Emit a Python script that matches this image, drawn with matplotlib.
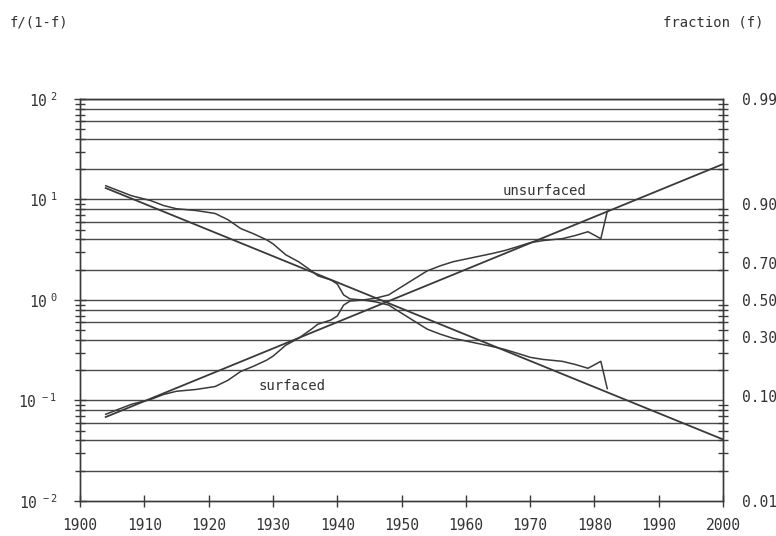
import numpy as np
import matplotlib
matplotlib.use('Agg')
import matplotlib.pyplot as plt
from matplotlib.ticker import LogLocator, NullFormatter, FixedLocator

# datos: fraccion de superficie (f) por año
years = [1904, 1908, 1911, 1913, 1915, 1918, 1921, 1923, 1925, 1927, 1929, 1930,
         1932, 1934, 1936, 1937, 1939, 1940, 1941, 1942, 1944, 1946, 1948, 1949,
         1951, 1954, 1956, 1958, 1961, 1964, 1966, 1968, 1970, 1972, 1975, 1977,
         1979, 1981, 1982]
surfaced_f = [0.068, 0.084, 0.093, 0.103, 0.110, 0.114, 0.121, 0.137, 0.163, 0.180,
              0.201, 0.216, 0.262, 0.294, 0.339, 0.365, 0.387, 0.409, 0.471, 0.494,
              0.500, 0.511, 0.529, 0.552, 0.597, 0.661, 0.686, 0.706, 0.725, 0.743,
              0.756, 0.772, 0.788, 0.796, 0.803, 0.814, 0.827, 0.803, 0.884]

# rectas ajustadas (extremos)
fit_years = [1904, 2000]
surfaced_fit = [0.0685, 22.5]
unsurfaced_fit = [13.0, 0.041]

right_labels = ['0.01', '0.10', '0.30', '0.50', '0.70', '0.90', '0.99']
right_fracs = [0.01, 0.10, 0.30, 0.50, 0.70, 0.90, 0.99]

plt.rcParams['font.family'] = ['DejaVu Sans Mono']
plt.rcParams['mathtext.default'] = 'regular'
ink = '#3a3a3a'

f = np.array(surfaced_f)
surf_odds = f / (1 - f)
unsurf_odds = (1 - f) / f

fig = plt.figure(figsize=(7.76, 5.36), dpi=100)
ax = fig.add_axes([0.1031, 0.0653, 0.8286, 0.75])
ax.set_yscale('log')
ax.set_xlim(1900, 2000)
ax.set_ylim(0.01, 100)

# lineas horizontales en 2,4,6,8,10 de cada decada
niveles = [m * 10.0 ** k for k in range(-2, 2) for m in (2, 4, 6, 8, 10)]
ax.hlines(niveles, 1900, 2000, color='#4a4a4a', lw=1.0, zorder=1)

ax.plot(fit_years, surfaced_fit, color=ink, lw=1.3, zorder=3)
ax.plot(fit_years, unsurfaced_fit, color=ink, lw=1.3, zorder=3)
ax.plot(years, surf_odds, color=ink, lw=1.1, zorder=3)
ax.plot(years, unsurf_odds, color=ink, lw=1.1, zorder=3)

ax.text(1965.8, 12.2, 'unsurfaced', fontsize=10, color='#333333', va='center')
ax.text(1927.7, 0.139, 'surfaced', fontsize=10, color='#333333', va='center')

for s in ax.spines.values():
    s.set_color(ink)
    s.set_linewidth(1.0)

ax.set_xticks(range(1900, 2001, 10))
ax.tick_params(axis='x', direction='inout', length=9, width=1, color=ink,
               labelsize=10.5, labelcolor='#333333', pad=8)
ax.set_yticks([0.01, 0.1, 1, 10, 100])
ax.set_yticklabels([r'$10^{\ -2}$', r'$10^{\ -1}$', r'$10^{\ 0}$',
                    r'$10^{\ 1}$', r'$10^{\ 2}$'])
ax.yaxis.set_minor_locator(LogLocator(base=10, subs=np.arange(2, 10)))
ax.yaxis.set_minor_formatter(NullFormatter())
ax.tick_params(axis='y', which='major', direction='inout', length=9, width=1,
               color=ink, labelsize=10.5, labelcolor='#333333', pad=12)
ax.tick_params(axis='y', which='minor', direction='inout', length=7, width=1,
               color=ink)

# eje derecho: fraccion f
ax2 = ax.twinx()
ax2.set_yscale('log')
ax2.set_ylim(0.01, 100)
ax2.yaxis.set_major_locator(FixedLocator([p / (1 - p) for p in right_fracs]))
ax2.set_yticklabels(right_labels)
ax2.yaxis.set_minor_locator(LogLocator(base=10, subs=np.arange(2, 10)))
ax2.yaxis.set_minor_formatter(NullFormatter())
ax2.tick_params(axis='y', which='major', length=0, labelsize=10.5,
                labelcolor='#333333', pad=14)
ax2.tick_params(axis='y', which='minor', direction='inout', length=7, width=1,
                color=ink)
for s in ax2.spines.values():
    s.set_color(ink)
    s.set_linewidth(1.0)

fig.text(0.013, 0.958, 'f/(1-f)', fontsize=10, color='#333333', va='center')
fig.text(0.984, 0.958, 'fraction (f)', fontsize=10, color='#333333',
         va='center', ha='right')

fig.savefig('out.png', dpi=100)
